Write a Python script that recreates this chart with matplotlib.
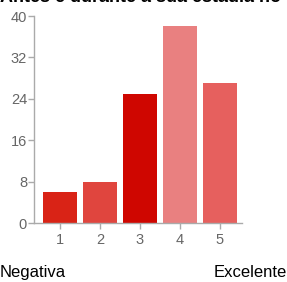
import matplotlib
matplotlib.use("Agg")
import matplotlib.pyplot as plt

plt.rcParams['font.family'] = 'Liberation Sans'

categories = ['1', '2', '3', '4', '5']
counts = [6, 8, 25, 38, 27]
colors = ['#d92316', '#e0453e', '#cf0600', '#e98080', '#e6605e']
yticks = [0, 8, 16, 24, 32, 40]

fig = plt.figure(figsize=(2.87, 2.82), dpi=100)
ax = fig.add_axes([0.1185, 0.2092, 0.7245, 0.734])

pos = range(1, len(categories) + 1)
ax.bar(pos, counts, width=0.85, color=colors, edgecolor='none')

ax.set_xlim(0.35, 5.55)
ax.set_ylim(0, 40)
ax.set_xticks(list(pos))
ax.set_xticklabels(categories)
ax.set_yticks(yticks)

for s in ['top', 'right']:
    ax.spines[s].set_visible(False)
for s in ['left', 'bottom']:
    ax.spines[s].set_color('#aaaaaa')
    ax.spines[s].set_linewidth(1)
ax.tick_params(colors='#aaaaaa', labelcolor='#666666', labelsize=10.5,
               length=4, width=1)
ax.tick_params(axis='x', pad=3)
ax.tick_params(axis='y', pad=1)

# title is cropped at the top edge, as in the original screenshot
fig.text(0.0, 1.008, 'Antes e durante a sua estadia no', fontsize=13,
         fontweight='bold', ha='left', va='center', color='#000000')
fig.text(0.0, 0.035, 'Negativa', fontsize=12, ha='left', va='center')
fig.text(1.0, 0.035, 'Excelente', fontsize=12, ha='right', va='center')

fig.savefig('out.png', dpi=100)
